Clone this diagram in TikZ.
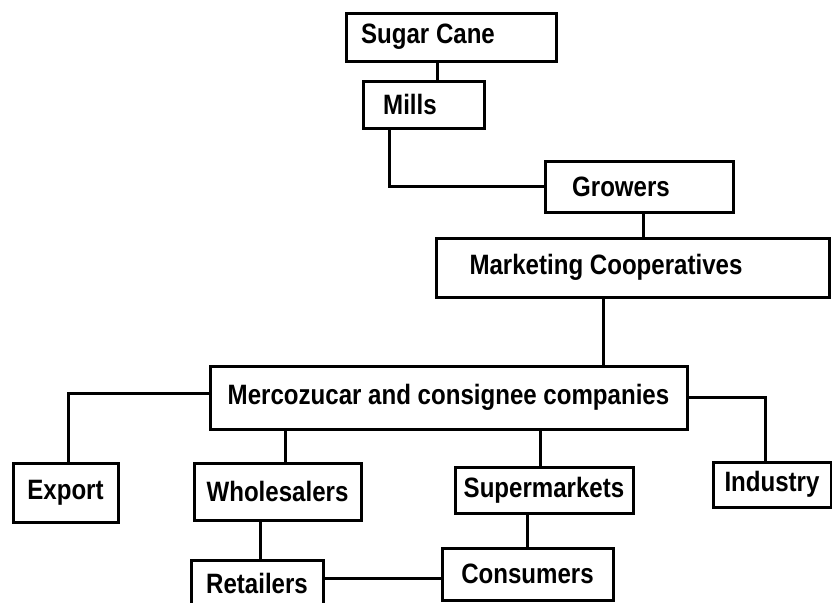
\documentclass[tikz,border=0pt]{standalone}
\usepackage{fontspec}
\setmainfont{Liberation Sans}[FakeStretch=0.86]

\begin{document}
\begin{tikzpicture}[x=0.5pt,y=-0.5pt,line width=1.5pt]

        \useasboundingbox (0,0) rectangle (832,602);

        \begin{scope}[every node/.style={draw, rectangle, inner ysep=0pt,
            font=\fontsize{14}{16}\selectfont\bfseries}]
          \node[minimum width=105pt, minimum height=24pt]
            (cane) at (451,37) {Sugar Cane\hspace*{23pt}};
          \node[minimum width=60.5pt, minimum height=23.5pt]
            (mills) at (423.5,104.5) {Mills\hspace*{13.5pt}};
          \node[minimum width=94pt, minimum height=25.5pt]
            (growers) at (639,186.5) {Growers\hspace*{18pt}};
          \node[minimum width=196.5pt, minimum height=29.5pt]
            (coops) at (632.5,267.5) {Marketing Cooperatives\hspace*{26.5pt}};
          \node[minimum width=238.5pt, minimum height=31.5pt]
            (merco) at (448.5,397.5) {Mercozucar and consignee companies};
          \node[minimum width=52.5pt, minimum height=29.5pt]
            (export) at (65.5,492.5) {Export};
          \node[minimum width=83.5pt, minimum height=28.5pt]
            (wholesalers) at (277.5,491.5) {Wholesalers};
          \node[minimum width=89pt, minimum height=23pt]
            (supermarkets) at (544,490) {Supermarkets};
          \node[minimum width=59pt, minimum height=22.5pt]
            (industry) at (772,484.5) {Industry};
          \node[minimum width=66pt, minimum height=23pt]
            (retailers) at (257,583) {Retailers};
          \node[minimum width=85.5pt, minimum height=26pt]
            (consumers) at (527.5,574) {Consumers};
        \end{scope}

        \begin{scope}[line cap=rect]
          \draw ([xshift=-7pt]cane.south) -- ([xshift=6.75pt]mills.north);
          \draw ([xshift=-17.25pt]mills.south) |- (growers.west);
          \draw ([xshift=2pt]growers.south) -- ([xshift=5.25pt]coops.north);
          \draw ([xshift=-14.5pt]coops.south) -- ([xshift=77.5pt]merco.north);
          \draw ([yshift=2.25pt]merco.west) -| ([xshift=1.25pt]export.north);
          \draw ([xshift=-81.75pt]merco.south) -- ([xshift=3.75pt]wholesalers.north);
          \draw ([xshift=45.75pt]merco.south) -- ([xshift=-2pt]supermarkets.north);
          \draw (merco.east) -| ([xshift=-3.5pt]industry.north);
          \draw ([xshift=-8.75pt]wholesalers.south) -- ([xshift=1.5pt]retailers.north);
          \draw ([xshift=-8.5pt]supermarkets.south) -- ([xshift=-0.25pt]consumers.north);
          \draw ([yshift=2.5pt]retailers.east) -- ([yshift=-2pt]consumers.west);
        \end{scope}

      \end{tikzpicture}
\end{document}
